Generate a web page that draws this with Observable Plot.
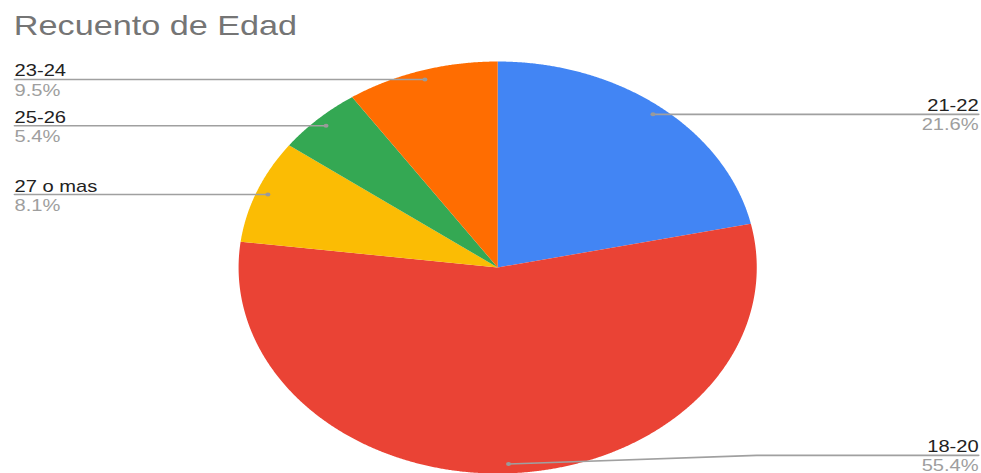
<!DOCTYPE html>
<html>
<head>
<meta charset="utf-8">
<script src="https://cdn.jsdelivr.net/npm/d3@7"></script>
<script src="https://cdn.jsdelivr.net/npm/@observablehq/plot@0.6"></script>
<style>
  html, body { margin: 0; padding: 0; background: #fff; overflow: hidden; }
  #wrap { position: relative; width: 780px; height: 473px; transform: scaleX(1.2577); transform-origin: 0 0; }
  #title { position: absolute; left: 11px; top: 11px; font-family: "Liberation Sans", Arial, sans-serif; font-size: 27.2px; line-height: 30px; color: #757575; white-space: nowrap; }
  #chart { position: absolute; left: 0; top: 0; }
</style>
</head>
<body>
<div id="wrap">
  <div id="chart"></div>
  <div id="title">Recuento de Edad</div>
</div>
<script>
// ---- data ----
const categories = ["21-22", "18-20", "27 o mas", "25-26", "23-24"];
const percents = [21.6, 55.4, 8.1, 5.4, 9.5];
const percentLabels = ["21.6%", "55.4%", "8.1%", "5.4%", "9.5%"];
const colors = ["#4285f4", "#ea4335", "#fbbc04", "#34a853", "#ff6d01"];

// ---- layout (inner, unstretched coordinates) ----
const W = 780, H = 473;
const R = 206;             // pie radius in px
const cx = 395.2;          // pie centre x
const mTop = 61, mBottom = 0;
const mLeft = cx - R, mRight = W - (cx + R);
const labelRightX = (W - 2.4 - cx) / R;
const labelLeftX = (11.1 - cx) / R;
const dotR = 0.955;
const labelMinY = -0.912;

const total = d3.sum(percents);
const slices = [];
const leaders = [];
const dots = [];
const labels = [];
let acc = 0;
categories.forEach((cat, i) => {
  const a0 = acc / total * 2 * Math.PI;
  acc += percents[i];
  const a1 = acc / total * 2 * Math.PI;
  const n = Math.max(2, Math.ceil((a1 - a0) / (Math.PI / 720)));
  slices.push({cat, x: 0, y: 0});
  for (let k = 0; k <= n; k++) {
    const a = a0 + (a1 - a0) * k / n;
    slices.push({cat, x: Math.sin(a), y: Math.cos(a)});
  }
  slices.push({cat, x: 0, y: 0});

  const am = (a0 + a1) / 2;
  const dx = dotR * Math.sin(am), dy = dotR * Math.cos(am);
  const side = dx >= 0 ? 1 : -1;
  const ly = Math.max(dy, labelMinY);
  const lx = side > 0 ? labelRightX : labelLeftX;
  dots.push({cat, x: dx, y: dy});
  leaders.push({cat, x: dx, y: dy});
  leaders.push({cat, x: side * 1.0, y: ly});
  leaders.push({cat, x: lx, y: ly});
  labels.push({cat, pct: percentLabels[i], x: lx, y: ly, anchor: side > 0 ? "end" : "start"});
});

const font = "'Liberation Sans', Arial, sans-serif";
const right = labels.filter(d => d.anchor === "end");
const left = labels.filter(d => d.anchor === "start");
const chart = Plot.plot({
  width: W,
  height: H,
  marginTop: mTop,
  marginBottom: mBottom,
  marginLeft: mLeft,
  marginRight: mRight,
  x: {domain: [-1, 1], axis: null},
  y: {domain: [-1, 1], axis: null},
  color: {domain: categories, range: colors},
  style: {fontFamily: font, overflow: "visible", background: "transparent"},
  marks: [
    Plot.line(slices, {x: "x", y: "y", z: "cat", fill: "cat", stroke: "none", curve: "linear"}),
    Plot.line(leaders, {x: "x", y: "y", z: "cat", stroke: "#a0a0a0", strokeWidth: 1.6}),
    Plot.dot(dots, {x: "x", y: "y", r: 2, fill: "#9a9a9a", stroke: "none"}),
    Plot.text(right, {x: "x", y: "y", text: "cat", textAnchor: "end", lineAnchor: "bottom", dy: -3, fontSize: 16, fill: "#222"}),
    Plot.text(right, {x: "x", y: "y", text: "pct", textAnchor: "end", lineAnchor: "top", dy: 4, fontSize: 16, fill: "#9e9e9e"}),
    Plot.text(left, {x: "x", y: "y", text: "cat", textAnchor: "start", lineAnchor: "bottom", dy: -3, fontSize: 16, fill: "#222"}),
    Plot.text(left, {x: "x", y: "y", text: "pct", textAnchor: "start", lineAnchor: "top", dy: 5, fontSize: 16, fill: "#9e9e9e"})
  ]
});
document.getElementById("chart").appendChild(chart);
</script>
</body>
</html>
